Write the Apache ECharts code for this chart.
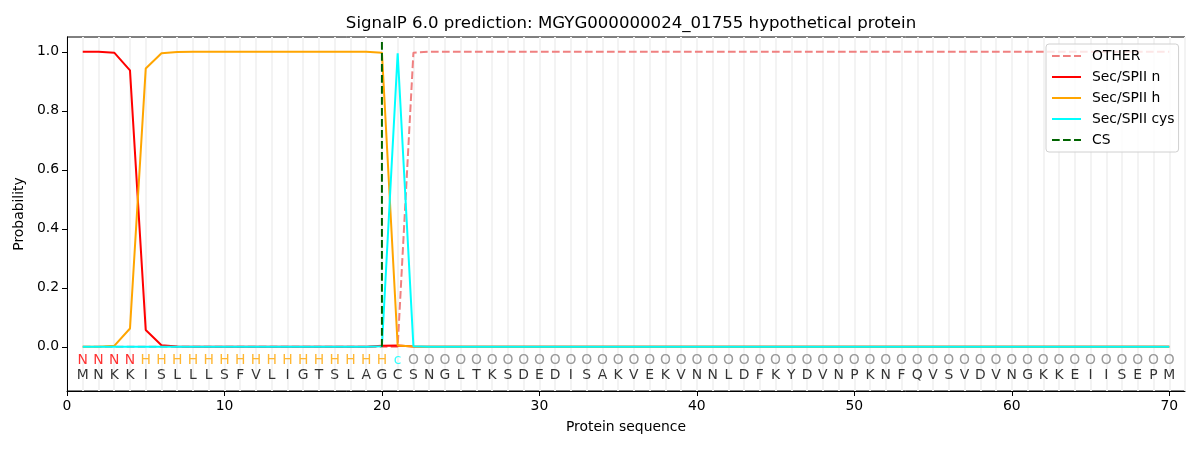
<!DOCTYPE html>
<html>
<head>
<meta charset="utf-8">
<script src="https://cdn.jsdelivr.net/npm/echarts@6/dist/echarts.min.js"></script>
<style>html,body{margin:0;padding:0;background:#fff}#c{width:1200px;height:450px}</style>
</head>
<body>
<div id="c"></div>
<script>
const sequence = "MNKKISLLLSFVLIGTSLAGCSNGLTKSDEDISAKVEKVNNLDFKYDVNPKNFQVSVDVNGKKEIISEPM".split('');
const annotation = "NNNNHHHHHHHHHHHHHHHHcOOOOOOOOOOOOOOOOOOOOOOOOOOOOOOOOOOOOOOOOOOOOOOOOO".split('');
const xTicks = [0, 10, 20, 30, 40, 50, 60, 70];
const yTicks = [0, 0.2, 0.4, 0.6, 0.8, 1.0];
const csPosition = 20;

const otherProb = [0,0,0,0,0,0,0,0,0,0, 0,0,0,0,0,0,0,0,0,0, 0,0.997,1,1,1,1,1,1,1,1, 1,1,1,1,1,1,1,1,1,1, 1,1,1,1,1,1,1,1,1,1, 1,1,1,1,1,1,1,1,1,1, 1,1,1,1,1,1,1,1,1,1];
const nProb = [1.0,1.0,0.997,0.937,0.057,0.005,0.001,0,0,0, 0,0,0,0,0,0,0,0,0,0.003, 0.004,0.001,0,0,0,0,0,0,0,0, 0,0,0,0,0,0,0,0,0,0, 0,0,0,0,0,0,0,0,0,0, 0,0,0,0,0,0,0,0,0,0, 0,0,0,0,0,0,0,0,0,0];
const hProb = [0,0,0.003,0.062,0.943,0.995,0.999,1,1,1, 1,1,1,1,1,1,1,1,1,0.997, 0.004,0.001,0,0,0,0,0,0,0,0, 0,0,0,0,0,0,0,0,0,0, 0,0,0,0,0,0,0,0,0,0, 0,0,0,0,0,0,0,0,0,0, 0,0,0,0,0,0,0,0,0,0];
const cysProb = [0,0,0,0,0,0,0,0,0,0, 0,0,0,0,0,0,0,0,0,0.002, 0.995,0.002,0,0,0,0,0,0,0,0, 0,0,0,0,0,0,0,0,0,0, 0,0,0,0,0,0,0,0,0,0, 0,0,0,0,0,0,0,0,0,0, 0,0,0,0,0,0,0,0,0,0];
const csLine = [[csPosition, 0], [csPosition, 1.035]];

const annColors = {N: '#ff0000', H: '#ffa500', c: '#00ffff', O: '#808080'};
const FONT = 'DejaVu Sans';
const toXY = arr => arr.map((v, i) => [i + 1, v]);
const dash = [7.7, 3.3];

const chart = echarts.init(document.getElementById('c'), null, {renderer: 'canvas'});
chart.setOption({
  animation: false,
  backgroundColor: '#ffffff',
  textStyle: {fontFamily: FONT},
  title: {
    text: 'SignalP 6.0 prediction: MGYG000000024_01755 hypothetical protein',
    left: 626, top: 10, textAlign: 'center',
    textStyle: {fontFamily: FONT, fontSize: 16.6, fontWeight: 'normal', color: '#000'}
  },
  grid: {left: 67, right: 15, top: 37, bottom: 59, show: true, borderColor: '#000', borderWidth: 1, backgroundColor: 'transparent'},
  legend: {
    orient: 'vertical', left: 1046, top: 44,
    padding: [5, 4, 5, 5], itemWidth: 29, itemHeight: 14, itemGap: 7,
    backgroundColor: 'rgba(255,255,255,0.8)', borderColor: '#d0d0d0', borderWidth: 1, borderRadius: 3,
    itemStyle: {opacity: 0},
    textStyle: {fontFamily: FONT, fontSize: 13.9, color: '#000', padding: [0, 0, 0, 6]},
    data: ['OTHER', 'Sec/SPII n', 'Sec/SPII h', 'Sec/SPII cys', 'CS']
  },
  xAxis: [{
    type: 'value', min: 0, max: 71,
    name: 'Protein sequence', nameLocation: 'middle', nameGap: 29,
    nameTextStyle: {fontFamily: FONT, fontSize: 13.9, color: '#000'},
    axisLine: {show: true, onZero: false, lineStyle: {color: '#000'}},
    axisTick: {show: true, length: 5, lineStyle: {color: '#000'}, customValues: xTicks},
    axisLabel: {show: true, margin: 8, fontFamily: FONT, fontSize: 13.9, color: '#000', customValues: xTicks},
    splitLine: {show: false}
  }, {
    type: 'value', min: 0, max: 71, interval: 1, position: 'bottom',
    axisLine: {show: false}, axisTick: {show: false}, axisLabel: {show: false},
    splitLine: {show: true, lineStyle: {color: '#f3f3f3', width: 2}}
  }],
  yAxis: {
    type: 'value', min: -0.15, max: 1.05,
    name: 'Probability', nameLocation: 'middle', nameGap: 38,
    nameTextStyle: {fontFamily: FONT, fontSize: 13.9, color: '#000'},
    axisLine: {show: true, onZero: false, lineStyle: {color: '#000'}},
    axisTick: {show: true, length: 5, lineStyle: {color: '#000'}, customValues: yTicks},
    axisLabel: {show: true, margin: 8, fontFamily: FONT, fontSize: 13.9, color: '#000', customValues: yTicks,
      formatter: v => Number(v).toFixed(1)},
    splitLine: {show: false}
  },
  series: [
    {name: 'OTHER', type: 'line', data: toXY(otherProb), symbol: 'none', color: '#f08080',
     lineStyle: {color: '#f08080', width: 2, type: dash}, z: 2},
    {name: 'Sec/SPII n', type: 'line', data: toXY(nProb), symbol: 'none', color: '#ff0000',
     lineStyle: {color: '#ff0000', width: 2}, z: 3},
    {name: 'Sec/SPII h', type: 'line', data: toXY(hProb), symbol: 'none', color: '#ffa500',
     lineStyle: {color: '#ffa500', width: 2}, z: 4},
    {name: 'Sec/SPII cys', type: 'line', data: toXY(cysProb), symbol: 'none', color: '#00ffff',
     lineStyle: {color: '#00ffff', width: 2}, z: 5},
    {name: 'CS', type: 'line', data: csLine, symbol: 'none', color: '#006400',
     lineStyle: {color: '#006400', width: 2, type: dash}, z: 6},
    {name: 'annot', type: 'scatter', symbolSize: 0, z: 7, silent: true,
     data: annotation.map((a, i) => ({value: [i + 1, -0.047, a],
       label: {show: true, position: 'inside', formatter: a, color: annColors[a], fontFamily: FONT, fontSize: 13.9}}))},
    {name: 'seq', type: 'scatter', symbolSize: 0, z: 7, silent: true,
     data: sequence.map((a, i) => ({value: [i + 1, -0.098, a],
       label: {show: true, position: 'inside', formatter: a, color: '#000', fontFamily: FONT, fontSize: 13.9}}))}
  ]
});
</script>
</body>
</html>
